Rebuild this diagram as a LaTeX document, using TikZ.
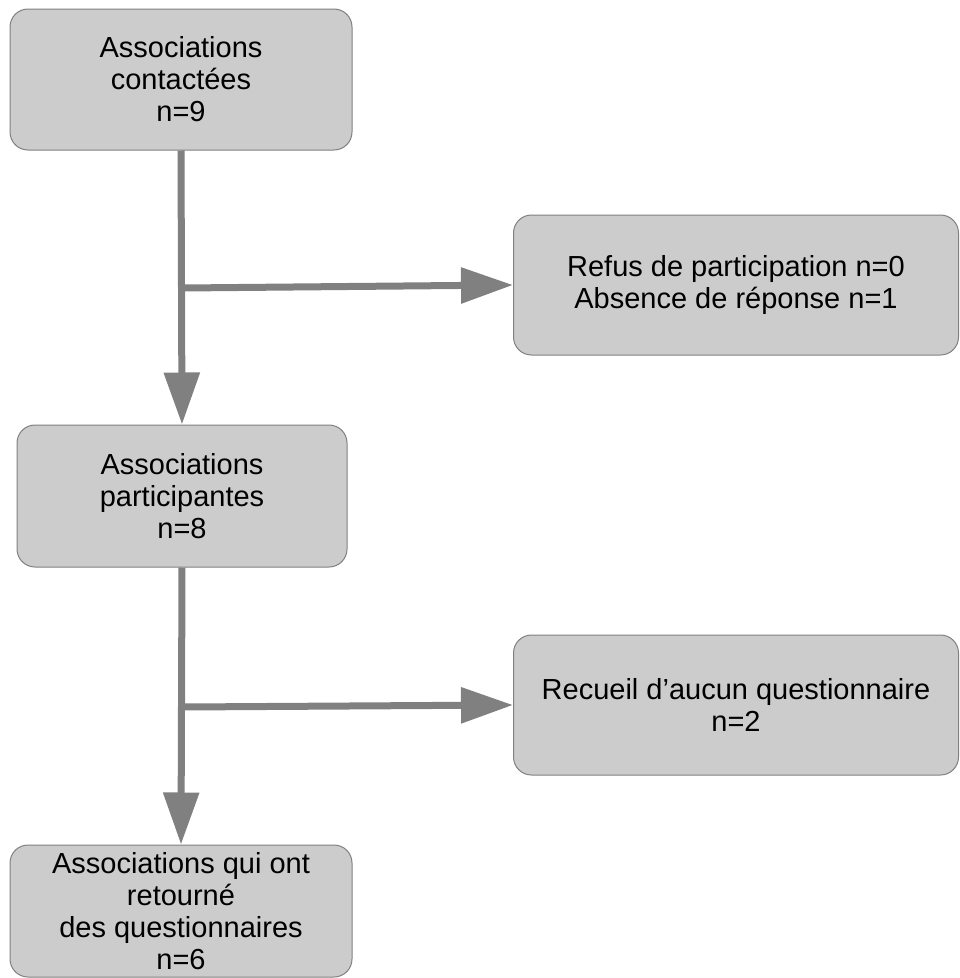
\documentclass[tikz,border=0pt]{standalone}
\usepackage{fontspec}
\setmainfont{Liberation Sans}
\usepackage{tikz}
\usepackage{xcolor}
\usetikzlibrary{positioning}
\usetikzlibrary{arrows.meta}
\definecolor{boxgray}{HTML}{CCCCCC}
\definecolor{arrgray}{HTML}{808080}
\tikzset{mybox/.style={rectangle, rounded corners=13.5pt, draw=arrgray, line width=0.75pt,
fill=boxgray, align=center, inner sep=0pt, font=\fontsize{21.75}{24}\selectfont}}

\begin{document}
\begin{tikzpicture}[x=0.75pt, y=-0.75pt, arr/.style={draw=arrgray, line width=5.25pt,
-{Triangle[length=39pt, width=26pt]}, arrgray}]
				\useasboundingbox (0,0) rectangle (960,978);

				\node[mybox, minimum width=256.5pt, minimum height=105.75pt] (contact) at (181,79.5)
					{Associations\\ contactées\\n=9};
				\node[mybox, minimum width=333.75pt, minimum height=105pt] (refus) at (736,285)
					{Refus de participation n=0\\ Absence de réponse n=1};
				\node[mybox, minimum width=247.5pt, minimum height=106.5pt] (particip) at (182,496)
					{Associations\\participantes\\n=8};
				\node[mybox, minimum width=333.75pt, minimum height=105pt] (recueil) at (736,705)
					{Recueil d’aucun questionnaire\\n=2};
				\node[mybox, minimum width=256.5pt, minimum height=99pt] (retour) at (181,911)
					{Associations qui ont\\retourné\\ des questionnaires\\n=6};

				\coordinate (br1) at (183,288);
				\coordinate (br2) at (183,707);
				\draw[arr] (contact.south) -- (particip.north);
				\draw[arr] (br1) -- (refus.west);
				\draw[arr] (particip.south) -- (retour.north);
				\draw[arr] (br2) -- (recueil.west);
			\end{tikzpicture}
\end{document}
